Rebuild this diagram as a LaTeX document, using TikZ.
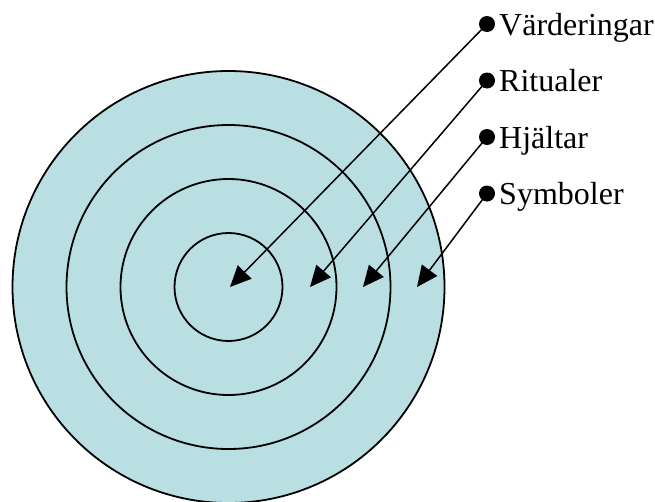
\documentclass[tikz,border=0pt]{standalone}
\usepackage{fontspec}
\setmainfont{Liberation Serif}
\usetikzlibrary{arrows.meta}
\definecolor{ringfill}{RGB}{185,223,227}
\begin{document}
\begin{tikzpicture}[x=1pt,y=-1pt,
  ring/.style={circle,draw=black,line width=1.8pt,fill=ringfill,inner sep=0pt},
  bulletdot/.style={circle,fill=black,inner sep=0pt,minimum size=16pt},
  lbl/.style={inner sep=0pt,font=\fontsize{32}{38}\selectfont},
  arr/.style={line width=1.5pt,-{Triangle[length=21pt,width=19pt]}}]
\useasboundingbox (0,0) rectangle (655,501);
\coordinate (C) at (228.5,287);
\node[ring,minimum size=432pt] (r4) at (C) {};
\node[ring,minimum size=324pt] (r3) at (C) {};
\node[ring,minimum size=216pt] (r2) at (C) {};
\node[ring,minimum size=108pt] (r1) at (C) {};
\coordinate (a1) at (230,287);
\coordinate (a2) at (310,287);
\coordinate (a3) at (363,287);
\coordinate (a4) at (417,287);
\node[bulletdot] (b1) at (487,24) {};
\node[bulletdot] (b2) at (487,80.5) {};
\node[bulletdot] (b3) at (487,137) {};
\node[bulletdot] (b4) at (487,193.5) {};
\node[lbl,anchor=base west] (t1) at (499,35) {Värderingar};
\node[lbl,anchor=base west] (t2) at (499,91.5) {Ritualer};
\node[lbl,anchor=base west] (t3) at (499,148) {Hjältar};
\node[lbl,anchor=base west] (t4) at (499,204.5) {Symboler};
\draw[arr] (b1.center) -- (a1);
\draw[arr] (b2.center) -- (a2);
\draw[arr] (b3.center) -- (a3);
\draw[arr] (b4.center) -- (a4);
\end{tikzpicture}
\end{document}
